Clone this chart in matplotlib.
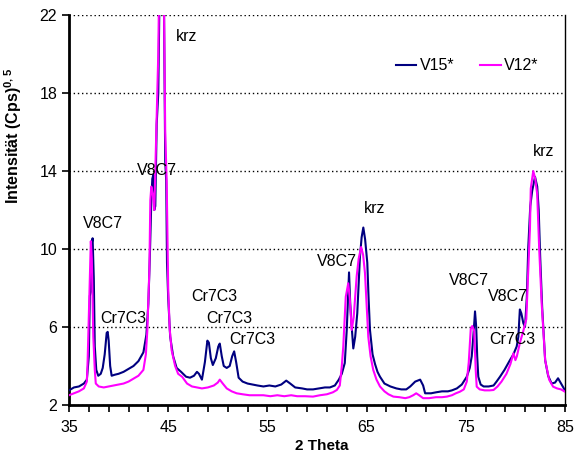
import matplotlib
matplotlib.use('Agg')
import matplotlib.pyplot as plt

plt.rcParams['font.family'] = ['Liberation Sans', 'DejaVu Sans']
plt.rcParams['mathtext.fontset'] = 'custom'
plt.rcParams['mathtext.rm'] = 'Liberation Sans'
plt.rcParams['mathtext.bf'] = 'Liberation Sans:bold'

# V15* Messkurve (2 Theta, Wurzel der Intensität)
theta_v15 = [35.0, 35.5, 36.0, 36.5, 36.8, 37.0, 37.1, 37.2, 37.3, 37.38, 37.5, 37.6, 37.75, 37.95,
             38.2, 38.4, 38.6, 38.8, 38.9, 39.0, 39.15, 39.3, 39.6, 40.0, 40.5, 41.0, 41.5, 42.0,
             42.5, 42.8, 43.0, 43.15, 43.3, 43.4, 43.5, 43.6, 43.7, 43.84, 44.0, 44.15, 44.35, 44.55,
             44.7, 44.8, 44.88, 45.0, 45.2, 45.5, 45.85, 46.3, 46.8, 47.2, 47.6, 47.9, 48.1, 48.4,
             48.7, 48.95, 49.1, 49.3, 49.5, 49.8, 50.05, 50.2, 50.4, 50.6, 50.9, 51.2, 51.45, 51.65,
             51.85, 52.1, 52.5, 53.0, 53.5, 54.0, 54.6, 55.2, 55.8, 56.4, 56.9, 57.3, 57.8, 58.5,
             59.0, 59.6, 60.2, 60.8, 61.3, 61.8, 62.2, 62.5, 62.8, 63.0, 63.15, 63.23, 63.35, 63.5,
             63.66, 63.85, 64.06, 64.33, 64.5, 64.67, 64.85, 65.07, 65.2, 65.34, 65.6, 65.85, 66.1,
             66.35, 66.8, 67.4, 68.0, 68.5, 69.0, 69.4, 69.9, 70.4, 70.7, 70.9, 71.5, 72.0, 72.6,
             73.2, 73.6, 74.1, 74.6, 75.1, 75.4, 75.6, 75.8, 75.93, 76.05, 76.15, 76.26, 76.5, 76.8,
             77.3, 77.8, 78.1, 78.45, 78.9, 79.45, 79.8, 80.13, 80.3, 80.45, 80.6, 80.8, 80.97,
             81.15, 81.3, 81.5, 81.7, 81.98, 82.2, 82.35, 82.5, 82.7, 83.0, 83.3, 83.65, 84.0, 84.3,
             84.6, 85.0]
int_v15 = [2.75, 2.9, 2.95, 3.1, 3.3, 4.5, 7.6, 7.8, 10.3, 10.55, 8.5, 5.0, 3.8, 3.5,
           3.6, 3.9, 4.6, 5.7, 5.75, 5.3, 4.0, 3.5, 3.55, 3.6, 3.7, 3.85, 4.0, 4.25,
           4.7, 5.6, 7.2, 9.6, 12.5, 13.6, 13.8, 12.0, 12.2, 16.4, 18.0, 24.0, 25.0, 24.0,
           14.5, 13.5, 9.3, 7.5, 5.5, 4.5, 3.9, 3.7, 3.45, 3.4, 3.5, 3.7, 3.6, 3.3,
           4.2, 5.3, 5.2, 4.4, 4.05, 4.4, 5.0, 5.15, 4.5, 4.0, 3.9, 4.0, 4.5, 4.75,
           4.2, 3.4, 3.2, 3.1, 3.05, 3.0, 2.95, 3.0, 2.95, 3.05, 3.25, 3.1, 2.9, 2.85,
           2.8, 2.8, 2.85, 2.9, 2.9, 3.0, 3.3, 3.6, 4.15, 5.85, 7.8, 8.8, 7.2, 6.0,
           4.9, 5.5, 6.7, 9.6, 10.6, 11.1, 10.5, 9.3, 7.5, 5.85, 4.6, 4.1, 3.7,
           3.45, 3.1, 2.95, 2.85, 2.8, 2.8, 2.95, 3.2, 3.3, 3.0, 2.6, 2.6, 2.65, 2.7,
           2.7, 2.75, 2.85, 3.05, 3.45, 3.9, 4.5, 5.8, 6.8, 6.0, 4.5, 3.45, 3.05, 2.95,
           2.95, 3.0, 3.2, 3.45, 3.8, 4.3, 4.6, 5.0, 5.5, 6.9, 6.7, 6.2, 6.0,
           7.5, 10.1, 12.2, 13.0, 13.7, 13.2, 12.0, 9.6, 7.0, 4.3, 3.5, 3.1, 3.15, 3.37,
           3.1, 2.75]

# V12* Messkurve
theta_v12 = [35.0, 35.5, 36.0, 36.5, 36.8, 36.88, 37.05, 37.2, 37.3, 37.45, 37.6, 37.7, 38.0, 38.5,
             39.0, 39.5, 40.0, 40.5, 41.0, 41.5, 42.0, 42.5, 42.75, 42.9, 43.1, 43.2, 43.3, 43.45,
             43.6, 43.8, 44.0, 44.1, 44.3, 44.55, 44.7, 44.85, 45.0, 45.15, 45.35, 45.7, 46.0, 46.4,
             46.9, 47.4, 47.9, 48.4, 49.0, 49.6, 50.0, 50.2, 50.5, 50.9, 51.4, 51.9, 52.5, 53.2,
             54.0, 54.6, 55.3, 56.0, 56.7, 57.4, 58.0, 58.8, 59.6, 60.3, 61.0, 61.6, 62.0, 62.3,
             62.5, 62.65, 62.9, 63.15, 63.3, 63.5, 63.7, 64.0, 64.2, 64.45, 64.65, 64.84, 65.0,
             65.17, 65.4, 65.67, 66.0, 66.35, 66.8, 67.2, 67.7, 68.3, 68.9, 69.3, 69.7, 70.0, 70.3,
             70.7, 71.3, 72.0, 72.6, 73.1, 73.6, 74.0, 74.4, 74.8, 75.1, 75.3, 75.5, 75.65, 75.85,
             76.0, 76.1, 76.4, 76.9, 77.4, 77.8, 78.2, 78.6, 79.1, 79.5, 79.8, 80.0, 80.15, 80.46,
             80.8, 81.1, 81.3, 81.47, 81.55, 81.8, 82.0, 82.2, 82.4, 82.65, 83.0, 83.4, 83.8, 84.2,
             84.6, 85.0]
int_v12 = [2.5, 2.6, 2.7, 2.85, 3.2, 4.3, 7.6, 10.4, 9.5, 5.5, 3.8, 3.1, 2.95, 2.9,
           2.95, 3.0, 3.05, 3.1, 3.2, 3.35, 3.5, 3.8, 4.6, 5.85, 8.9, 12.5, 13.2, 12.8,
           12.0, 15.9, 20.0, 24.0, 25.0, 24.0, 16.0, 13.4, 8.0, 5.9, 4.8, 4.0, 3.6, 3.45,
           3.1, 2.95, 2.9, 2.85, 2.9, 3.0, 3.15, 3.3, 3.1, 2.85, 2.7, 2.6, 2.55, 2.5,
           2.5, 2.5, 2.45, 2.5, 2.45, 2.5, 2.45, 2.45, 2.43, 2.5, 2.55, 2.65, 2.77, 3.0,
           4.0, 5.0, 7.55, 8.24, 7.5, 5.85, 6.5, 8.6, 9.5, 10.1, 9.7, 8.75, 7.2,
           5.5, 4.5, 3.8, 3.3, 2.95, 2.7, 2.55, 2.43, 2.4, 2.35, 2.4, 2.5, 2.6, 2.5,
           2.35, 2.35, 2.4, 2.4, 2.43, 2.5, 2.6, 2.68, 2.8, 3.2, 4.2, 5.9, 6.05, 5.8,
           3.8, 2.94, 2.8, 2.75, 2.75, 2.77, 2.95, 3.2, 3.6, 4.1, 4.65, 4.3, 4.5, 5.2,
           5.8, 6.4, 9.0, 11.1, 13.1, 14.0, 13.6, 12.8, 10.0, 7.2, 4.3, 3.3, 2.94, 2.85,
           2.8, 2.68]

# Phasenbeschriftungen (Text, x, y)
peak_labels = ['V8C7', 'Cr7C3', 'V8C7', 'krz', 'Cr7C3', 'Cr7C3', 'Cr7C3',
               'V8C7', 'krz', 'V8C7', 'V8C7', 'Cr7C3', 'krz']
label_x = [38.4, 40.5, 43.9, 46.9, 49.6, 51.2, 53.5, 62.0, 65.85, 75.3, 79.25, 79.7, 82.8]
label_y = [11.3, 6.45, 14.0, 20.9, 7.55, 6.45, 5.35, 9.35, 12.1, 8.4, 7.55, 5.35, 15.0]

fig = plt.figure(figsize=(5.74, 4.57), dpi=100)
ax = fig.add_axes([0.1202, 0.1138, 0.8641, 0.8534])

ax.plot(theta_v15, int_v15, color='#000080', linewidth=1.5, label='V15*', zorder=3)
ax.plot(theta_v12, int_v12, color='#FF00FF', linewidth=1.5, label='V12*', zorder=4)

for txt, x, y in zip(peak_labels, label_x, label_y):
    ax.text(x, y, txt, ha='center', va='center', fontsize=11.5, zorder=5)

ax.set_xlim(35, 85)
ax.set_ylim(2, 22)
ax.set_xticks(range(35, 86, 10))
ax.set_xticks(range(35, 86, 2), minor=True)
ax.set_yticks(range(2, 23, 4))
ax.tick_params(axis='both', which='both', direction='out', length=5, width=1.2, labelsize=11.5)
ax.tick_params(axis='x', which='major', length=5, pad=6)
ax.yaxis.grid(True, linestyle=(0, (1, 2)), color='black', linewidth=1)

ax.spines['top'].set_visible(False)
ax.spines['left'].set_linewidth(2)
ax.spines['bottom'].set_linewidth(2)
ax.spines['right'].set_linewidth(1)

ax.set_xlabel('2 Theta', fontsize=11, fontweight='bold')
ax.xaxis.set_label_coords(0.51, -0.088)
ax.set_ylabel('Intensität (Cps)$^{\\mathbf{0,5}}$', fontsize=11.5, fontweight='bold')
ax.yaxis.set_label_coords(-0.09, 0.69)

ax.legend(loc='center right', bbox_to_anchor=(0.975, 0.87), ncol=2, frameon=False, fontsize=11.5,
          handlelength=1.3, handletextpad=0.2, columnspacing=1.6)

fig.savefig('out.png', dpi=100)
